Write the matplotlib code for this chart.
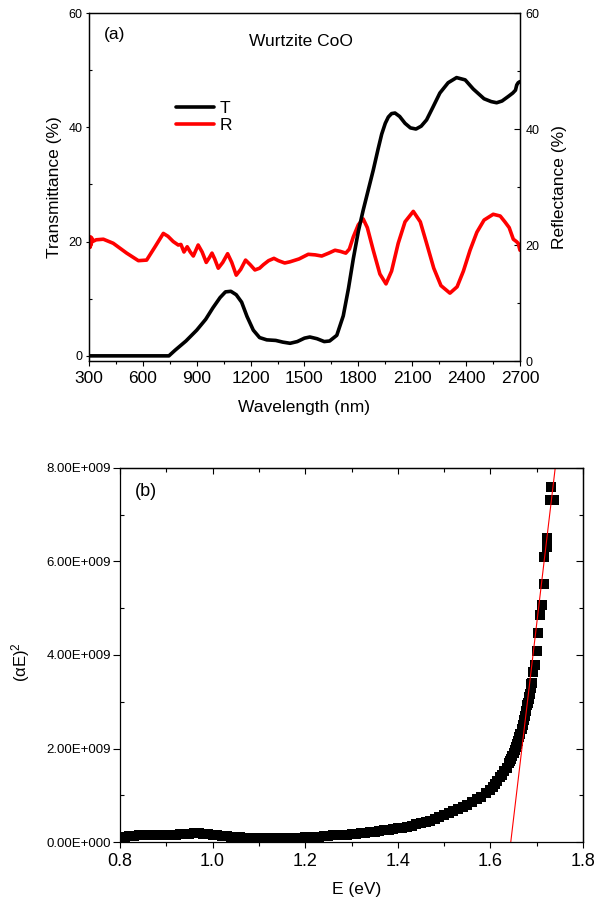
import numpy as np
import matplotlib.pyplot as plt
from matplotlib.ticker import MultipleLocator

plt.rcParams['font.family'] = ['Liberation Sans', 'DejaVu Sans']
plt.rcParams['mathtext.default'] = 'regular'

# ---- panel (a): transmittance / reflectance vs wavelength ----
t_nm = [300, 400, 500, 600, 700, 745, 780, 840, 900, 950, 990, 1030, 1060, 1090,
        1120, 1150, 1180, 1215, 1250, 1290, 1340, 1380, 1420, 1460, 1500, 1530,
        1570, 1610, 1640, 1680, 1716, 1745, 1772, 1800, 1827, 1855, 1883, 1910,
        1930, 1950, 1967, 1985, 2004, 2030, 2060, 2090, 2121, 2150, 2180, 2215,
        2254, 2300, 2347, 2395, 2440, 2500, 2540, 2570, 2600, 2635, 2660, 2675,
        2682, 2690, 2700]
t_val = [0, 0, 0, 0, 0, 0, 1.0, 2.6, 4.5, 6.4, 8.4, 10.2, 11.2, 11.3,
         10.7, 9.4, 6.9, 4.5, 3.2, 2.8, 2.7, 2.4, 2.2, 2.5, 3.1, 3.3,
         3.0, 2.5, 2.6, 3.6, 7.0, 11.8, 17.0, 21.8, 25.5, 29.0, 32.5, 36.2,
         38.8, 40.7, 41.8, 42.4, 42.5, 41.9, 40.7, 39.9, 39.7, 40.2, 41.3, 43.5,
         46.0, 47.8, 48.7, 48.3, 46.7, 45.0, 44.5, 44.3, 44.6, 45.4, 46.0, 46.5,
         47.4, 47.8, 48.0]

r_nm = [300, 303, 306, 309, 312, 316, 320, 340, 380, 435, 510, 575, 621, 668,
        714, 740, 769, 797, 812, 829, 847, 864, 881, 908, 930, 953, 970, 985,
        1000, 1020, 1045, 1072, 1095, 1120, 1145, 1172, 1198, 1224, 1250, 1271,
        1300, 1330, 1355, 1390, 1419, 1470, 1521, 1560, 1596, 1635, 1670, 1700,
        1730, 1750, 1772, 1800, 1827, 1850, 1883, 1920, 1954, 1985, 2022, 2060,
        2106, 2145, 2180, 2220, 2260, 2310, 2350, 2385, 2422, 2460, 2500, 2551,
        2590, 2616, 2640, 2663, 2680, 2690, 2700]
r_val = [19.8, 21.3, 19.6, 21.4, 20.0, 21.2, 20.6, 20.9, 21.0, 20.3, 18.6, 17.3, 17.4, 19.7,
         22.0, 21.5, 20.6, 20.0, 20.1, 18.8, 19.7, 18.8, 18.1, 20.0, 18.8, 17.0, 17.8, 18.6,
         17.6, 16.0, 17.0, 18.5, 17.0, 14.8, 15.8, 17.4, 16.6, 15.7, 16.0, 16.6,
         17.3, 17.7, 17.3, 16.9, 17.1, 17.6, 18.4, 18.3, 18.1, 18.6, 19.1, 18.9,
         18.6, 19.3, 21.4, 23.5, 24.5, 23.0, 19.1, 15.0, 13.3, 15.5, 20.3, 24.0,
         25.8, 24.0, 20.3, 16.0, 13.0, 11.7, 12.8, 15.5, 19.1, 22.2, 24.3, 25.3,
         25.0, 24.0, 23.0, 21.0, 20.6, 20.3, 19.1]

wl_ticks = [300, 600, 900, 1200, 1500, 1800, 2100, 2400, 2700]
pct_ticks = [0, 20, 40, 60]

# ---- panel (b): (alpha E)^2 vs E, values in units of 1e9 ----
band_E = [0.80, 0.81, 0.82, 0.83, 0.84, 0.85, 0.86, 0.87, 0.88, 0.89,
          0.90, 0.91, 0.92, 0.93, 0.94, 0.95, 0.96, 0.97, 0.98, 0.99,
          1.00, 1.01, 1.02, 1.03, 1.04, 1.05, 1.06, 1.07, 1.08, 1.09,
          1.10, 1.11, 1.12, 1.13, 1.14, 1.15, 1.16, 1.17, 1.18, 1.19,
          1.20, 1.21, 1.22, 1.23, 1.24, 1.25, 1.26, 1.27, 1.28, 1.29,
          1.30, 1.31, 1.32, 1.33, 1.34, 1.35, 1.36, 1.37, 1.38, 1.39,
          1.40, 1.41, 1.42, 1.43, 1.44, 1.45, 1.46, 1.47, 1.48, 1.49,
          1.50, 1.51, 1.52, 1.53, 1.54, 1.55, 1.56, 1.57, 1.58, 1.59,
          1.600, 1.605, 1.610, 1.615, 1.620, 1.625, 1.630, 1.635,
          1.6400, 1.6425, 1.6450, 1.6475, 1.6500, 1.6525, 1.6550, 1.6575,
          1.6600, 1.6625, 1.6650, 1.6675, 1.6700, 1.6725, 1.6750, 1.6775,
          1.6800, 1.6825, 1.6850, 1.6875, 1.6900]
band_y = [0.10, 0.11, 0.12, 0.13, 0.14, 0.15, 0.15, 0.16, 0.16, 0.16,
          0.16, 0.16, 0.16, 0.17, 0.17, 0.18, 0.19, 0.19, 0.18, 0.17,
          0.16, 0.15, 0.13, 0.12, 0.11, 0.10, 0.10, 0.09, 0.09, 0.09,
          0.08, 0.08, 0.08, 0.08, 0.08, 0.08, 0.08, 0.09, 0.09, 0.09,
          0.10, 0.10, 0.11, 0.11, 0.12, 0.13, 0.14, 0.14, 0.15, 0.16,
          0.17, 0.18, 0.19, 0.20, 0.21, 0.22, 0.23, 0.25, 0.26, 0.28,
          0.29, 0.31, 0.33, 0.35, 0.38, 0.40, 0.43, 0.46, 0.50, 0.54,
          0.58, 0.62, 0.66, 0.70, 0.75, 0.80, 0.85, 0.91, 0.97, 1.04,
          1.11, 1.17, 1.24, 1.31, 1.38, 1.44, 1.51, 1.59,
          1.68, 1.73, 1.78, 1.84, 1.90, 1.96, 2.03, 2.10,
          2.17, 2.24, 2.32, 2.41, 2.50, 2.60, 2.70, 2.81,
          2.93, 3.05, 3.17, 3.29, 3.40]
iso_E = [1.681, 1.683, 1.688, 1.693, 1.696, 1.700, 1.703, 1.708, 1.712,
         1.716, 1.716, 1.722, 1.723, 1.729, 1.737, 1.731]
iso_y = [2.97, 3.11, 3.39, 3.64, 3.79, 4.09, 4.46, 4.86, 5.07,
         5.52, 6.09, 6.30, 6.51, 7.32, 7.32, 7.60]
fit_E = [1.644, 1.740]
fit_y = [0.0, 8.0]

e_ticks = [0.8, 1.0, 1.2, 1.4, 1.6, 1.8]
e_labels = ['0.8', '1.0', '1.2', '1.4', '1.6', '1.8']
a_ticks = [0, 2e9, 4e9, 6e9, 8e9]
a_labels = ['0.00E+000', '2.00E+009', '4.00E+009', '6.00E+009', '8.00E+009']

fig = plt.figure(figsize=(5.98, 9.05), dpi=100)

# ---------------- (a) ----------------
ax1 = fig.add_axes([0.1488, 0.6011, 0.7207, 0.3845])
ax1r = ax1.twinx()
ax1.set_zorder(ax1r.get_zorder() + 1)
ax1.patch.set_visible(False)

lt, = ax1.plot(t_nm, t_val, color='black', lw=2.6, solid_capstyle='round',
               solid_joinstyle='round')
lr, = ax1r.plot(r_nm, r_val, color='#ff0000', lw=2.6, solid_capstyle='round',
                solid_joinstyle='round')

ax1.set_xlim(300, 2700)
ax1.set_ylim(-0.9, 60)
ax1r.set_ylim(0, 60)
ax1.set_xticks(wl_ticks)
ax1.xaxis.set_minor_locator(MultipleLocator(150))
ax1.set_yticks(pct_ticks)
ax1.yaxis.set_minor_locator(MultipleLocator(10))
ax1r.set_yticks(pct_ticks)
ax1r.yaxis.set_minor_locator(MultipleLocator(10))

ax1.tick_params(axis='x', which='major', direction='out', length=3.5, width=0.8,
                labelsize=12.5, pad=4, top=False)
ax1.tick_params(axis='x', which='minor', direction='out', length=2.5, width=0.8, top=False)
ax1.tick_params(axis='y', which='major', direction='out', length=2.5, width=0.8,
                labelsize=9, pad=2, right=False)
ax1.tick_params(axis='y', which='minor', direction='in', length=2.5, width=0.8, right=False)
ax1r.tick_params(axis='y', which='major', direction='in', length=4, width=0.8,
                 labelsize=9, pad=4)
ax1r.tick_params(axis='y', which='minor', direction='in', length=2.5, width=0.8)

for a in (ax1, ax1r):
    for s in a.spines.values():
        s.set_linewidth(0.9)

ax1.set_xlabel('Wavelength (nm)', fontsize=12.5)
ax1.xaxis.set_label_coords(0.5, -0.112)
ax1.set_ylabel('Transmittance (%)', fontsize=12.5)
ax1.yaxis.set_label_coords(-0.063, 0.5)
ax1r.set_ylabel('Reflectance (%)', fontsize=12.5)
ax1r.yaxis.set_label_coords(1.0735, 0.5)

ax1.text(0.035, 0.937, '(a)', transform=ax1.transAxes, fontsize=12.5, va='center')
ax1.text(0.371, 0.918, 'Wurtzite CoO', transform=ax1.transAxes, fontsize=12.5, va='center')

ax1.legend([lt, lr], ['T', 'R'], loc='upper left', bbox_to_anchor=(0.202, 0.747),
           frameon=False, fontsize=12.5, handlelength=2.2, handletextpad=0.3,
           labelspacing=0.1, borderaxespad=0, borderpad=0)

# ---------------- (b) ----------------
ax2 = fig.add_axes([0.2007, 0.0696, 0.7742, 0.4133])
ax2.plot(band_E, np.array(band_y) * 1e9, 's', color='black', ms=7, mew=0)
ax2.plot(iso_E, np.array(iso_y) * 1e9, 's', color='black', ms=6.5, mew=0)
ax2.plot(fit_E, np.array(fit_y) * 1e9, color='#ff0000', lw=0.8)

ax2.set_xlim(0.8, 1.8)
ax2.set_ylim(0, 8e9)
ax2.set_xticks(e_ticks, e_labels)
ax2.xaxis.set_minor_locator(MultipleLocator(0.1))
ax2.set_yticks(a_ticks, a_labels)
ax2.yaxis.set_minor_locator(MultipleLocator(1e9))

ax2.tick_params(axis='x', which='major', direction='out', length=4.5, width=0.8,
                labelsize=13, pad=3.5, top=False)
ax2.tick_params(axis='x', which='minor', direction='out', length=3, width=0.8, top=False)
ax2.tick_params(axis='y', which='major', direction='out', length=5, width=0.8,
                labelsize=9.5, pad=1.5, right=False)
ax2.tick_params(axis='y', which='minor', direction='in', length=3, width=0.8, right=False)

top = ax2.secondary_xaxis('top')
top.set_xticks(e_ticks)
top.xaxis.set_minor_locator(MultipleLocator(0.1))
top.tick_params(which='major', direction='in', length=4.5, width=0.8, labeltop=False)
top.tick_params(which='minor', direction='in', length=3, width=0.8)
right = ax2.secondary_yaxis('right')
right.set_yticks(a_ticks)
right.yaxis.set_minor_locator(MultipleLocator(1e9))
right.tick_params(which='major', direction='in', length=5, width=0.8, labelright=False)
right.tick_params(which='minor', direction='in', length=3, width=0.8)

for a in (ax2, top, right):
    for s in a.spines.values():
        s.set_linewidth(0.9)

ax2.set_xlabel('E (eV)', fontsize=12.5)
ax2.xaxis.set_label_coords(0.51, -0.106)
ax2.set_ylabel('(αE)$^2$', fontsize=12)
ax2.yaxis.set_label_coords(-0.19, 0.48)

ax2.text(0.032, 0.936, '(b)', transform=ax2.transAxes, fontsize=13, va='center')

fig.savefig('out.png', dpi=100)
